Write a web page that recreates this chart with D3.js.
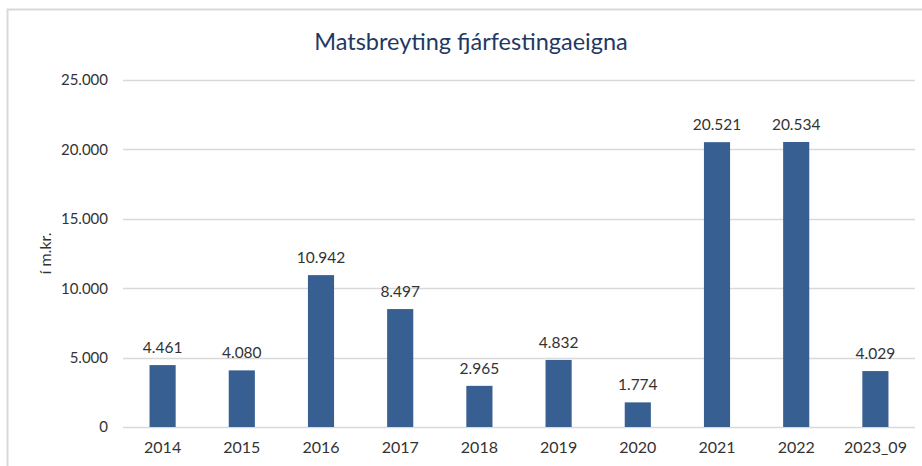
<!DOCTYPE html>
<html>
<head>
<meta charset="utf-8">
<script src="https://cdn.jsdelivr.net/npm/d3@7"></script>
<style>
  html, body { margin: 0; padding: 0; background: #fff; }
  svg { display: block; }
  text { font-family: Lato, "Open Sans", sans-serif; }
</style>
</head>
<body>
<svg id="chart" width="922" height="466"></svg>
<script>
const categories = ["2014", "2015", "2016", "2017", "2018", "2019", "2020", "2021", "2022", "2023_09"];
const values = [4461, 4080, 10942, 8497, 2965, 4832, 1774, 20521, 20534, 4029];
const yTicks = [0, 5000, 10000, 15000, 20000, 25000];
const title = "Matsbreyting fjárfestingaeigna";
const yLabel = "í m.kr.";

const svg = d3.select("#chart");
const W = 922, H = 466;
const margin = { left: 123, right: 7, top: 80, bottom: 39 };
const x0 = margin.left, x1 = W - margin.right;
const y0 = H - margin.bottom, y1 = margin.top;

const fmt = v => d3.format(",")(v).replace(/,/g, ".");

// border of chart area (cropped on right and bottom)
svg.append("path")
  .attr("d", `M7.5,${H + 2} L7.5,9.5 L${W + 2},9.5`)
  .attr("fill", "none")
  .attr("stroke", "#d9d9d9")
  .attr("stroke-width", 2);

const x = d3.scaleBand().domain(categories).range([x0, x1]).paddingInner(0.67).paddingOuter(0.335);
const y = d3.scaleLinear().domain([0, 25000]).range([y0, y1]);

// gridlines
svg.append("g").selectAll("line").data(yTicks).join("line")
  .attr("x1", x0).attr("x2", x1)
  .attr("y1", d => Math.round(y(d)) + 0.5).attr("y2", d => Math.round(y(d)) + 0.5)
  .attr("stroke", "#d9d9d9").attr("stroke-width", 1.3);

// y axis labels
const yAxis = d3.axisLeft(y).tickValues(yTicks).tickFormat(fmt).tickSize(0).tickPadding(15);
const gy = svg.append("g").attr("transform", `translate(${x0},0)`).call(yAxis);
gy.select(".domain").remove();
gy.selectAll("text").attr("font-size", 15).attr("fill", "#333").attr("font-family", "Lato, sans-serif");

// x axis labels
const xAxis = d3.axisBottom(x).tickSize(0).tickPadding(15);
const gx = svg.append("g").attr("transform", `translate(0,${y0})`).call(xAxis);
gx.select(".domain").remove();
gx.selectAll("text").attr("font-size", 16).attr("fill", "#333").attr("font-family", "Lato, sans-serif");

// bars
svg.append("g").selectAll("rect").data(values).join("rect")
  .attr("x", (d, i) => x(categories[i]))
  .attr("width", x.bandwidth())
  .attr("y", d => y(d))
  .attr("height", d => y0 - y(d))
  .attr("fill", "#375f91");

// value labels
svg.append("g").selectAll("text").data(values).join("text")
  .attr("x", (d, i) => x(categories[i]) + x.bandwidth() / 2)
  .attr("y", d => y(d) - 12)
  .attr("text-anchor", "middle")
  .attr("font-size", 15.5)
  .attr("fill", "#333")
  .text(fmt);

// title
svg.append("text")
  .attr("x", 471).attr("y", 50)
  .attr("text-anchor", "middle")
  .attr("font-size", 23.5)
  .attr("fill", "#1f3864")
  .text(title);

// y label
svg.append("text")
  .attr("transform", `translate(51,${(y0 + y1) / 2}) rotate(-90)`)
  .attr("text-anchor", "middle")
  .attr("font-size", 16)
  .attr("fill", "#333")
  .text(yLabel);
</script>
</body>
</html>
